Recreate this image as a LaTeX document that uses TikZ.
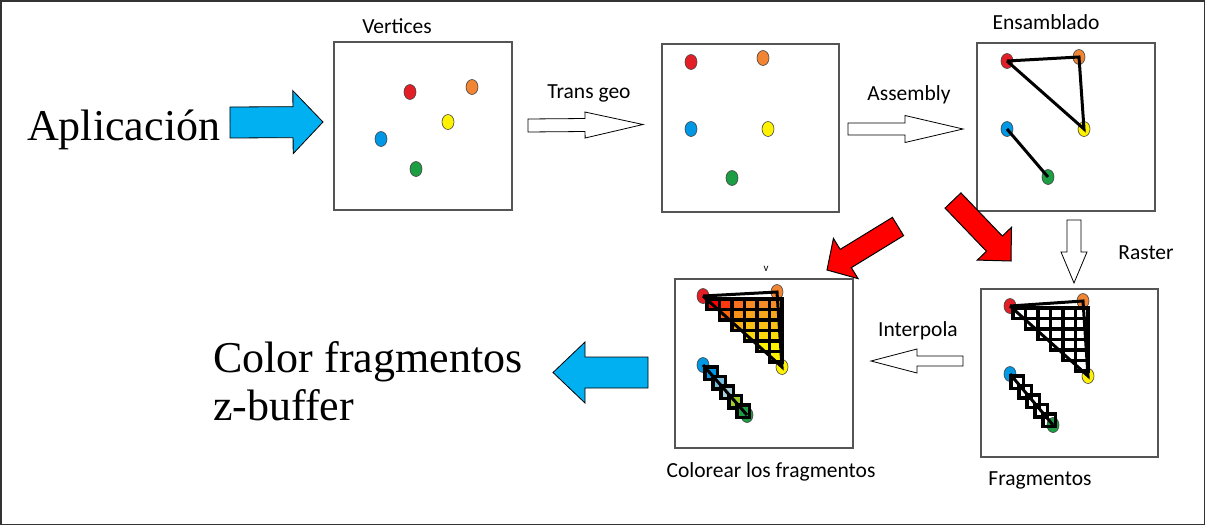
\documentclass[tikz,border=0pt]{standalone}
\usepackage{fontspec}
\setmainfont{Liberation Serif}
\newfontfamily\lab{Carlito}
\usetikzlibrary{calc,shapes.geometric}
\definecolor{arrowblue}{RGB}{0,176,240}
\definecolor{dred}{RGB}{228,30,38}
\definecolor{dorange}{RGB}{241,133,51}
\definecolor{dyellow}{RGB}{255,242,0}
\definecolor{dblue}{RGB}{0,152,228}
\definecolor{dgreen}{RGB}{27,158,68}
\definecolor{boxgray}{RGB}{85,85,85}
\definecolor{lb1}{RGB}{120,190,225}
\definecolor{lb2}{RGB}{170,210,220}
\definecolor{yg}{RGB}{160,205,40}
\definecolor{gorange}{RGB}{245,140,40}
\tikzset{
  panel/.style={draw=boxgray, line width=1.5pt, fill=white},
  lbl/.style={font=\lab\fontsize{21.5}{24}\selectfont, inner sep=0pt},
  big/.style={font=\fontsize{44}{50}\selectfont, inner sep=0pt, anchor=base west},
  vdot/.style={ellipse, draw=black!75, line width=0.6pt, minimum width=12pt, minimum height=15pt, inner sep=0pt},
  edge/.style={line width=3pt, black},
  cell/.style={draw=black, line width=3.2pt},
  hollow/.style={draw=black, line width=0.8pt, fill=white},
  bluearrow/.style={draw=black, line width=0.8pt, fill=arrowblue},
  redarrow/.style={draw=black, line width=1pt, fill=red},
}
% style, tail, tip, shaft half width, head half width, head length
\newcommand\fatarrow[6]{%
  \coordinate (hb) at ($(#3)!#6!(#2)$);
  \draw[#1] ($(#2)!#4!90:(#3)$) -- ($(hb)!#4!-90:(#2)$) -- ($(hb)!#5!-90:(#2)$)
    -- (#3) -- ($(hb)!#5!90:(#2)$) -- ($(hb)!#4!90:(#2)$) -- ($(#2)!#4!-90:(#3)$) -- cycle;
}
% raster grid: #1 x, #2 y of red dot, #3 = 1 coloured
\newcommand\rastergrid[3]{%
  \begin{scope}[shift={(#1,#2)}]
    \foreach \r in {0,...,5}{
      \foreach \k in {\r,...,5}{
        \pgfmathsetmacro\xa{3+12.5*\k}
        \pgfmathsetmacro\ya{2+10.5*\r}
        \pgfmathtruncatemacro\pa{max(0,100-40*\k)}
        \pgfmathtruncatemacro\pb{max(0,100-25*\r)}
        \ifnum#3=1
          \draw[cell, fill=red!\pa!gorange!\pb!dyellow] (\xa,\ya) rectangle ++(12.5,10.5);
        \else
          \draw[cell] (\xa,\ya) rectangle ++(12.5,10.5);
        \fi
      }
    }
    \foreach \i/\c in {0/dblue,1/lb1,2/lb2,3/yg,4/dgreen}{
      \ifnum#3=1
        \draw[cell, fill=\c] (1+8*\i,70+9.5*\i) rectangle ++(12.5,12.5);
      \else
        \draw[cell] (1+8*\i,70+9.5*\i) rectangle ++(12.5,12.5);
      \fi
    }
  \end{scope}
}
\begin{document}
\begin{tikzpicture}[x=1pt,y=-1pt]
\useasboundingbox (0,0) rectangle (1205,525);
\draw[line width=1.5pt, black!80] (0.75,0.75) rectangle (1204.25,524.25);

% panels
\draw[panel] (334,42) rectangle (512,210);
\draw[panel] (662,44) rectangle (839,212);
\draw[panel] (977,43) rectangle (1155,211);
\draw[panel] (981,289) rectangle (1158,457);
\draw[panel] (675,279) rectangle (853,448);

% labels
\node[lbl] (tv) at (397,26) {Vertices};
\node[lbl] (tt) at (589,93) {Trans geo};
\node[lbl] (ta) at (909,95) {Assembly};
\node[lbl] (te) at (1046,22) {Ensamblado};
\node[lbl] (tr) at (1146,253) {Raster};
\node[lbl] (ti) at (918,331) {Interpola};
\node[lbl] (tc) at (771,472) {Colorear los fragmentos};
\node[lbl] (tf) at (1040,480) {Fragmentos};
\node[font=\lab\fontsize{11}{11}\selectfont, inner sep=0pt] (tvv) at (766,269) {v};
\node[big] (tap) at (27,140) {Aplicación};
\node[big] (tcf) at (213,372) {Color fragmentos};
\node[big] (tzb) at (213,420) {z-buffer};

% vertices panel
\node[vdot, fill=dred] (v1) at (410,92) {};
\node[vdot, fill=dorange] (v2) at (472,87) {};
\node[vdot, fill=dyellow] (v3) at (448,122) {};
\node[vdot, fill=dblue] (v4) at (381,139) {};
\node[vdot, fill=dgreen] (v5) at (416,169) {};

% transformed panel
\node[vdot, fill=dred] (t1) at (691,62) {};
\node[vdot, fill=dorange] (t2) at (763,58) {};
\node[vdot, fill=dyellow] (t3) at (768,129) {};
\node[vdot, fill=dblue] (t4) at (691,129) {};
\node[vdot, fill=dgreen] (t5) at (732,178) {};

% assembly panel
\node[vdot, fill=dred] (e1) at (1007,61) {};
\node[vdot, fill=dorange] (e2) at (1079,57) {};
\node[vdot, fill=dyellow] (e3) at (1084,129) {};
\node[vdot, fill=dblue] (e4) at (1007,129) {};
\node[vdot, fill=dgreen] (e5) at (1048,177) {};
\draw[edge] (e1.center) -- (e2.center) -- (e3.center) -- (e1.center);
\draw[edge] (e4.center) -- (e5.center);

% fragments panel
\node[vdot, fill=dred] (f1) at (1010,306) {};
\node[vdot, fill=dorange] (f2) at (1083,301) {};
\node[vdot, fill=dyellow] (f3) at (1088,376) {};
\node[vdot, fill=dblue] (f4) at (1010,374) {};
\node[vdot, fill=dgreen] (f5) at (1053,425) {};
\rastergrid{1010}{306}{0}
\draw[edge] (f1.center) -- (f2.center) -- (f3.center) -- (f1.center);
\draw[edge] (f4.center) -- (f5.center);

% coloured panel
\node[vdot, fill=dred] (c1) at (703,296) {};
\node[vdot, fill=dorange] (c2) at (777,292) {};
\node[vdot, fill=dyellow] (c3) at (782,367) {};
\node[vdot, fill=dblue] (c4) at (703,365) {};
\node[vdot, fill=dgreen] (c5) at (747,415) {};
\rastergrid{704}{297}{1}
\draw[edge] (c1.center) -- (c2.center) -- (c3.center) -- (c1.center);
\draw[edge] (c4.center) -- (c5.center);

% arrows
\coordinate (a1t) at (230,122.5); \coordinate (a1h) at (323,122);
\fatarrow{bluearrow}{a1t}{a1h}{15.5pt}{31.5pt}{30pt}
\coordinate (a2t) at (648,372.5); \coordinate (a2h) at (553,372.5);
\fatarrow{bluearrow}{a2t}{a2h}{15.5pt}{30.5pt}{32pt}
\coordinate (a3t) at (528,125.5); \coordinate (a3h) at (643,124.5);
\fatarrow{hollow}{a3t}{a3h}{6.5pt}{13pt}{58pt}
\coordinate (a4t) at (848,129); \coordinate (a4h) at (963,129);
\fatarrow{hollow}{a4t}{a4h}{6pt}{13.5pt}{58pt}
\coordinate (a5t) at (1074,220); \coordinate (a5h) at (1074,283);
\fatarrow{hollow}{a5t}{a5h}{7pt}{13pt}{31pt}
\coordinate (a6t) at (963,361); \coordinate (a6h) at (871,361);
\fatarrow{hollow}{a6t}{a6h}{5pt}{12pt}{46pt}
\coordinate (a7t) at (898,226.5); \coordinate (a7h) at (827,270);
\fatarrow{redarrow}{a7t}{a7h}{10.7pt}{23.6pt}{22pt}
\coordinate (a8t) at (953,200.5); \coordinate (a8h) at (1011,261);
\fatarrow{redarrow}{a8t}{a8h}{11pt}{23.7pt}{24pt}
\end{tikzpicture}
\end{document}
